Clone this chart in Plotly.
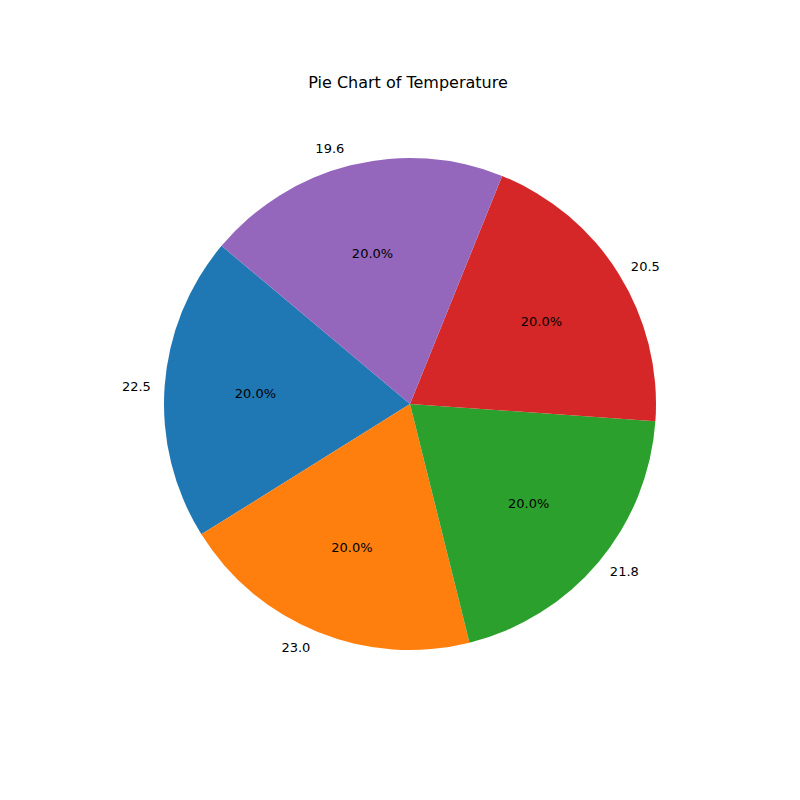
import plotly.graph_objects as go

temps = ["22.5", "23.0", "21.8", "20.5", "19.6"]
counts = [1, 1, 1, 1, 1]
colors = ["#1f77b4", "#ff7f0e", "#2ca02c", "#d62728", "#9467bd"]

dom = dict(x=[0.1825, 0.8225], y=[0.185, 0.825])
dom_in = dict(x=[0.195, 0.81], y=[0.1975, 0.8125])

fig = go.Figure()
fig.add_trace(go.Pie(
    labels=temps, values=counts, sort=False, direction="counterclockwise",
    rotation=-122, marker=dict(colors=colors), domain=dom_in,
    texttemplate="%{percent:.1%}", textposition="inside",
    insidetextorientation="horizontal",
    textfont=dict(color="black", size=13, family="DejaVu Sans"),
    hoverinfo="label+percent", showlegend=False,
))
fig.add_trace(go.Pie(
    labels=temps, values=counts, sort=False, direction="counterclockwise",
    rotation=-122, marker=dict(colors=["rgba(0,0,0,0)"] * 5), domain=dom,
    texttemplate="%{label}", textposition="outside",
    textfont=dict(color="black", size=13, family="DejaVu Sans"),
    hoverinfo="skip", showlegend=False,
))
fig.update_layout(
    width=800, height=800,
    margin=dict(l=0, r=0, t=0, b=0),
    paper_bgcolor="white", plot_bgcolor="white",
    title=dict(text="Pie Chart of Temperature", x=0.5, xanchor="center",
               y=1 - 74 / 800, yanchor="middle",
               font=dict(size=16, color="black", family="DejaVu Sans")),
)
fig.write_html("out.html")
